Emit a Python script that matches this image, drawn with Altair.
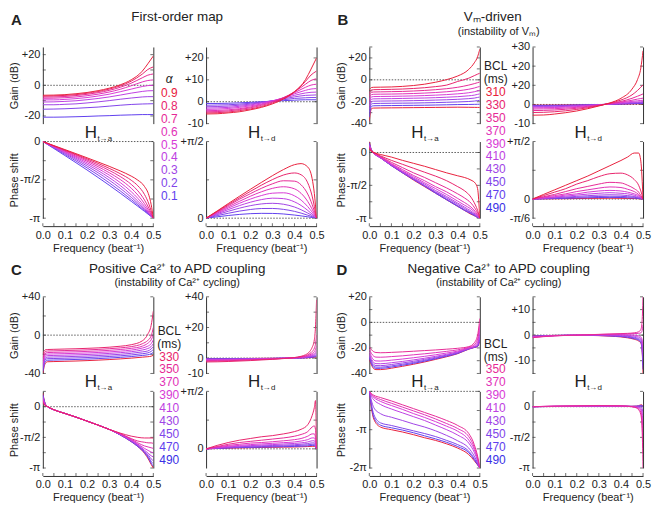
import altair as alt
import pandas as pd

FONT = "Liberation Sans"
W = 111
H = 77
COL_GAP = 53
ROW_GAP = 18
SPACER_H = 43
LEG_STEP = 13.0

# ---------------- series labels and colours ----------------
ALPHA = ["0.9", "0.8", "0.7", "0.6", "0.5", "0.4", "0.3", "0.2", "0.1"]
ALPHA_COLORS = ["#E8203C", "#E8246C", "#E62A96", "#E232B8", "#D83AD6",
                "#BE40E2", "#A044E6", "#8044EA", "#6040EE"]
BCL_B = ["310", "330", "350", "370", "390", "410", "430", "450", "470", "490"]
BCL_COLORS_B = ["#E8203C", "#E8246C", "#E62A96", "#E232B8", "#D83AD6",
                "#BE40E2", "#A044E6", "#8044EA", "#6040EE", "#3A30E6"]
BCL_C = ["330", "350", "370", "390", "410", "430", "450", "470", "490"]
BCL_COLORS_C = BCL_COLORS_B[1:]
BCL_D = ["350", "370", "390", "410", "430", "450", "470", "490"]
BCL_COLORS_D = BCL_COLORS_B[2:]

X_TICKS = [0.0, 0.05, 0.1, 0.15, 0.2, 0.25, 0.3, 0.35, 0.4, 0.45, 0.5]

# ---------------- A: first-order map ----------------
F_AG = [0, 0.05, 0.1, 0.15, 0.2, 0.25, 0.3, 0.35, 0.4, 0.45, 0.475, 0.5]
A_GAIN_TA = [
    [-6.5, -6.4, -6.1, -5.5, -4.7, -3.5, -1.9, 0.3, 3.6, 9.2, 14.0, 19.1],
    [-7.1, -6.9, -6.6, -6.1, -5.2, -4.1, -2.5, -0.4, 2.7, 7.3, 10.3, 12.0],
    [-7.7, -7.6, -7.3, -6.7, -5.9, -4.8, -3.3, -1.3, 1.4, 4.9, 6.6, 7.4],
    [-8.5, -8.4, -8.1, -7.6, -6.8, -5.8, -4.4, -2.6, -0.3, 2.2, 3.1, 3.5],
    [-9.5, -9.5, -9.2, -8.7, -8.0, -7.0, -5.8, -4.2, -2.5, -0.8, -0.2, 0.0],
    [-10.9, -10.8, -10.5, -10.1, -9.4, -8.6, -7.6, -6.4, -5.1, -4.0, -3.6, -3.5],
    [-12.7, -12.7, -12.4, -12.1, -11.5, -10.8, -10.0, -9.1, -8.3, -7.6, -7.4, -7.4],
    [-15.6, -15.5, -15.3, -15.0, -14.6, -14.2, -13.6, -13.0, -12.5, -12.2, -12.1, -12.0],
    [-20.8, -20.8, -20.7, -20.5, -20.3, -20.0, -19.8, -19.5, -19.3, -19.1, -19.1, -19.1],
]
A_GAIN_TD = [
    [-5.6, -5.5, -5.1, -4.6, -3.7, -2.6, -1.0, 1.2, 4.5, 10.1, 14.9, 20.0],
    [-5.1, -5.0, -4.7, -4.1, -3.3, -2.2, -0.6, 1.6, 4.6, 9.3, 12.2, 14.0],
    [-4.6, -4.5, -4.2, -3.6, -2.8, -1.7, -0.2, 1.8, 4.5, 8.0, 9.7, 10.5],
    [-4.1, -4.0, -3.7, -3.2, -2.4, -1.3, 0.1, 1.8, 4.1, 6.6, 7.6, 8.0],
    [-3.5, -3.4, -3.1, -2.6, -1.9, -1.0, 0.3, 1.8, 3.6, 5.2, 5.8, 6.0],
    [-2.9, -2.8, -2.6, -2.1, -1.5, -0.6, 0.4, 1.6, 2.9, 4.0, 4.3, 4.4],
    [-2.3, -2.2, -2.0, -1.6, -1.1, -0.4, 0.4, 1.3, 2.2, 2.9, 3.0, 3.1],
    [-1.6, -1.5, -1.4, -1.1, -0.7, -0.2, 0.4, 0.9, 1.5, 1.8, 1.9, 1.9],
    [-0.8, -0.8, -0.7, -0.5, -0.3, 0.0, 0.2, 0.5, 0.7, 0.9, 0.9, 0.9],
]
F_AP = [0, 0.05, 0.1, 0.15, 0.2, 0.25, 0.3, 0.35, 0.4, 0.43, 0.46, 0.48, 0.49, 0.5]
# phase values in units of pi
A_PHASE_TA = [
    [0, -0.053, -0.105, -0.158, -0.212, -0.267, -0.323, -0.383, -0.451, -0.504, -0.586, -0.702, -0.819, -1],
    [0, -0.056, -0.112, -0.168, -0.226, -0.285, -0.349, -0.419, -0.505, -0.577, -0.690, -0.816, -0.903, -1],
    [0, -0.059, -0.118, -0.177, -0.241, -0.306, -0.376, -0.456, -0.559, -0.643, -0.763, -0.871, -0.934, -1],
    [0, -0.063, -0.126, -0.191, -0.257, -0.328, -0.406, -0.495, -0.609, -0.698, -0.811, -0.902, -0.950, -1],
    [0, -0.067, -0.135, -0.204, -0.276, -0.353, -0.437, -0.535, -0.654, -0.742, -0.845, -0.921, -0.960, -1],
    [0, -0.072, -0.144, -0.219, -0.296, -0.379, -0.470, -0.573, -0.694, -0.777, -0.869, -0.934, -0.967, -1],
    [0, -0.077, -0.155, -0.235, -0.319, -0.407, -0.503, -0.609, -0.727, -0.805, -0.887, -0.943, -0.972, -1],
    [0, -0.084, -0.168, -0.254, -0.344, -0.437, -0.537, -0.643, -0.756, -0.827, -0.901, -0.950, -0.975, -1],
    [0, -0.091, -0.183, -0.276, -0.371, -0.469, -0.569, -0.673, -0.780, -0.845, -0.911, -0.956, -0.978, -1],
]
A_PHASE_TD = [
    [0, 0.047, 0.095, 0.142, 0.188, 0.233, 0.277, 0.317, 0.349, 0.356, 0.334, 0.258, 0.161, 0],
    [0, 0.0445, 0.0885, 0.132, 0.1745, 0.215, 0.2515, 0.2815, 0.295, 0.283, 0.2305, 0.144, 0.0775, 0],
    [0, 0.041, 0.082, 0.123, 0.1595, 0.1945, 0.224, 0.244, 0.2415, 0.2175, 0.1575, 0.089, 0.046, 0],
    [0, 0.0375, 0.074, 0.1095, 0.143, 0.172, 0.1945, 0.205, 0.1915, 0.162, 0.109, 0.0585, 0.030, 0],
    [0, 0.033, 0.0655, 0.0965, 0.1245, 0.1475, 0.163, 0.1655, 0.146, 0.118, 0.0755, 0.0395, 0.020, 0],
    [0, 0.0285, 0.056, 0.0815, 0.104, 0.121, 0.1305, 0.1275, 0.1065, 0.083, 0.051, 0.0265, 0.0135, 0],
    [0, 0.023, 0.045, 0.065, 0.0815, 0.093, 0.097, 0.091, 0.073, 0.055, 0.0335, 0.017, 0.0085, 0],
    [0, 0.0165, 0.032, 0.046, 0.0565, 0.063, 0.0635, 0.0575, 0.0445, 0.033, 0.0195, 0.010, 0.005, 0],
    [0, 0.009, 0.0175, 0.0245, 0.0295, 0.0315, 0.031, 0.0275, 0.0205, 0.015, 0.009, 0.0045, 0.002, 0],
]

# ---------------- B: Vm-driven ----------------
F_BGA = [0, 0.004, 0.01, 0.02, 0.05, 0.1, 0.15, 0.2, 0.25, 0.3, 0.35, 0.4, 0.45, 0.475, 0.49, 0.5]
B_GAIN_TA = [
    [-9, -8, -7, -6.8, -6.7, -6.5, -6.0, -5.2, -4.0, -2.2, 0.2, 3.5, 9.5, 15.5, 21, 28],
    [-12, -10.5, -9.3, -9.0, -8.9, -8.7, -8.4, -7.9, -7.2, -6.2, -4.8, -1.5, 1.5, 3.8, 5.2, 6.0],
    [-15, -12.5, -11.4, -11.1, -11.0, -10.8, -10.6, -10.2, -9.7, -9.0, -8.1, -6.8, -4.8, -3.5, -2.6, -2.0],
    [-18, -15, -13.5, -13.2, -13.1, -13.0, -12.8, -12.5, -12.1, -11.6, -10.9, -10.0, -8.6, -7.5, -6.6, -6.0],
    [-21, -17.5, -15.6, -15.3, -15.2, -15.1, -14.9, -14.7, -14.4, -14.0, -13.5, -12.8, -11.8, -10.9, -10.1, -9.5],
    [-24, -20, -17.8, -17.4, -17.3, -17.2, -17.0, -16.8, -16.6, -16.3, -15.9, -15.4, -14.6, -14.0, -13.3, -12.8],
    [-27, -22.5, -19.9, -19.5, -19.4, -19.3, -19.2, -19.0, -18.8, -18.5, -18.2, -17.8, -17.2, -16.7, -16.1, -15.7],
    [-30, -25, -22, -21.6, -21.5, -21.4, -21.3, -21.2, -21.0, -20.8, -20.5, -20.2, -19.8, -19.4, -19.0, -18.7],
    [-34, -28, -24.2, -23.7, -23.6, -23.5, -23.4, -23.3, -23.2, -23.0, -22.8, -22.6, -22.5, -22.4, -22.35, -22.3],
    [-38, -31, -26.3, -25.8, -25.7, -25.6, -25.5, -25.4, -25.3, -25.2, -25.1, -25.0, -25.1, -25.15, -25.2, -25.2],
]
F_BGD = [0, 0.05, 0.1, 0.15, 0.2, 0.25, 0.3, 0.35, 0.4, 0.45, 0.475, 0.49, 0.5]
B_GAIN_TD = [
    [-5.6, -5.5, -5.0, -4.3, -3.4, -2.2, -0.8, 0.8, 3.2, 8.0, 13.0, 19.0, 28.0],
    [-4.2, -4.1, -3.8, -3.3, -2.6, -1.7, -0.6, 0.7, 2.3, 5.0, 7.3, 9.0, 10.3],
    [-3.2, -3.1, -2.9, -2.5, -2.0, -1.3, -0.5, 0.5, 1.6, 3.2, 4.3, 5.0, 5.5],
    [-2.4, -2.3, -2.2, -1.9, -1.5, -1.0, -0.4, 0.4, 1.2, 2.2, 2.8, 3.1, 3.3],
    [-1.8, -1.7, -1.6, -1.4, -1.1, -0.7, -0.3, 0.3, 0.9, 1.6, 1.9, 2.1, 2.2],
    [-1.3, -1.3, -1.2, -1.0, -0.8, -0.5, -0.2, 0.2, 0.6, 1.1, 1.3, 1.4, 1.5],
    [-1.0, -1.0, -0.9, -0.8, -0.6, -0.4, -0.1, 0.2, 0.5, 0.8, 1.0, 1.05, 1.1],
    [-0.7, -0.7, -0.6, -0.55, -0.4, -0.3, -0.1, 0.1, 0.35, 0.55, 0.7, 0.75, 0.8],
    [-0.5, -0.5, -0.45, -0.4, -0.3, -0.2, -0.05, 0.1, 0.25, 0.4, 0.5, 0.52, 0.55],
    [-0.35, -0.35, -0.3, -0.25, -0.2, -0.15, -0.05, 0.05, 0.15, 0.28, 0.33, 0.36, 0.38],
]
F_BPA = [0, 0.005, 0.01, 0.02, 0.05, 0.1, 0.15, 0.2, 0.25, 0.3, 0.35, 0.4, 0.43, 0.46, 0.48, 0.49, 0.5]
B_PHASE_TA = [
    [0.05, 0.03, 0.02, 0.0, -0.03, -0.07, -0.12, -0.165, -0.21, -0.26, -0.31, -0.355, -0.38, -0.42, -0.47, -0.55, -1],
    [0.07, 0.04, 0.02, 0.0, -0.05, -0.12, -0.18, -0.24, -0.30, -0.36, -0.43, -0.52, -0.58, -0.68, -0.80, -0.88, -1],
    [0.08, 0.05, 0.02, 0.0, -0.06, -0.15, -0.23, -0.31, -0.38, -0.46, -0.54, -0.63, -0.69, -0.77, -0.86, -0.92, -1],
    [0.09, 0.05, 0.02, -0.01, -0.07, -0.17, -0.26, -0.35, -0.43, -0.52, -0.60, -0.70, -0.76, -0.83, -0.90, -0.95, -1],
    [0.10, 0.06, 0.03, -0.01, -0.07, -0.18, -0.28, -0.37, -0.46, -0.55, -0.64, -0.74, -0.80, -0.86, -0.92, -0.96, -1],
    [0.11, 0.06, 0.03, -0.01, -0.08, -0.19, -0.29, -0.39, -0.48, -0.58, -0.67, -0.77, -0.83, -0.89, -0.94, -0.97, -1],
    [0.12, 0.07, 0.03, -0.01, -0.08, -0.19, -0.30, -0.40, -0.50, -0.60, -0.69, -0.79, -0.85, -0.91, -0.95, -0.98, -1],
    [0.13, 0.07, 0.03, -0.01, -0.08, -0.20, -0.30, -0.41, -0.51, -0.61, -0.71, -0.81, -0.87, -0.92, -0.96, -0.98, -1],
    [0.15, 0.08, 0.04, -0.01, -0.08, -0.20, -0.31, -0.41, -0.51, -0.62, -0.72, -0.82, -0.88, -0.93, -0.97, -0.99, -1],
    [0.17, 0.09, 0.04, -0.01, -0.08, -0.20, -0.31, -0.42, -0.52, -0.62, -0.72, -0.82, -0.88, -0.94, -0.97, -0.99, -1],
]
F_BPD = [0, 0.05, 0.1, 0.15, 0.2, 0.25, 0.3, 0.35, 0.4, 0.43, 0.46, 0.48, 0.49, 0.5]
B_PHASE_TD = [
    [0, 0.04, 0.08, 0.12, 0.16, 0.20, 0.245, 0.29, 0.335, 0.365, 0.40, 0.40, 0.33, 0],
    [0, 0.03, 0.06, 0.09, 0.13, 0.16, 0.195, 0.22, 0.225, 0.21, 0.17, 0.12, 0.07, 0],
    [0, 0.02, 0.04, 0.065, 0.09, 0.11, 0.13, 0.145, 0.14, 0.12, 0.09, 0.06, 0.03, 0],
    [0, 0.015, 0.03, 0.045, 0.065, 0.08, 0.095, 0.105, 0.10, 0.085, 0.065, 0.04, 0.02, 0],
    [0, 0.01, 0.02, 0.035, 0.045, 0.06, 0.07, 0.075, 0.07, 0.06, 0.045, 0.03, 0.015, 0],
    [0, 0.008, 0.016, 0.025, 0.034, 0.043, 0.05, 0.055, 0.05, 0.045, 0.033, 0.02, 0.01, 0],
    [0, 0.005, 0.011, 0.017, 0.023, 0.029, 0.034, 0.037, 0.035, 0.03, 0.022, 0.014, 0.007, 0],
    [0, 0.004, 0.007, 0.011, 0.015, 0.019, 0.022, 0.024, 0.023, 0.02, 0.015, 0.009, 0.005, 0],
    [0, 0.002, 0.004, 0.006, 0.009, 0.011, 0.013, 0.014, 0.013, 0.011, 0.008, 0.005, 0.003, 0],
    [0, 0.001, 0.002, 0.003, 0.004, 0.005, 0.006, 0.007, 0.006, 0.005, 0.004, 0.003, 0.001, 0],
]

# ---------------- C: positive Ca to APD coupling ----------------
F_CGA = [0, 0.005, 0.01, 0.02, 0.05, 0.1, 0.15, 0.2, 0.25, 0.3, 0.35, 0.4, 0.45, 0.475, 0.49, 0.5]
C_GAIN_TA = [
    [-20, -17, -15.5, -15, -14.8, -14.5, -14.2, -13.8, -13.3, -12.6, -11.6, -10, -6, 1, 10, 25],
    [-24, -20, -17.5, -16.6, -16.4, -16.1, -15.8, -15.4, -14.9, -14.2, -13.3, -12, -9, -5.5, -1, 8],
    [-27, -22, -19.5, -18.2, -18, -17.7, -17.4, -17, -16.5, -15.9, -15, -13.8, -11.5, -8.5, -5, 0],
    [-30, -24, -21, -19.8, -19.6, -19.3, -19, -18.6, -18.1, -17.5, -16.7, -15.6, -13.5, -11.5, -9, -5],
    [-32, -26, -23, -21.4, -21.2, -20.9, -20.6, -20.2, -19.7, -19.1, -18.3, -17.3, -15.5, -14, -12, -9],
    [-34, -28, -24.5, -23, -22.8, -22.5, -22.2, -21.8, -21.3, -20.7, -20, -19, -17.5, -16.5, -14.5, -12],
    [-36, -30, -26, -24.6, -24.4, -24.1, -23.8, -23.4, -22.9, -22.3, -21.6, -20.7, -19.4, -18.5, -17, -15],
    [-38, -32, -28, -26.2, -26, -25.7, -25.4, -25, -24.5, -23.9, -23.2, -22.4, -21.2, -20.5, -19.5, -18],
    [-40, -34, -30, -27.8, -27.6, -27.3, -27, -26.6, -26.1, -25.5, -24.8, -24, -23, -22.5, -22, -21],
]
F_CGD = [0, 0.05, 0.1, 0.2, 0.3, 0.35, 0.4, 0.43, 0.45, 0.47, 0.48, 0.49, 0.495, 0.5]
C_GAIN_TD = [
    [-2.5, -2.4, -2.2, -1.6, -0.8, -0.3, 0.4, 1.2, 2.2, 4.5, 7, 12, 20, 38],
    [-2, -1.9, -1.7, -1.2, -0.6, -0.2, 0.3, 0.9, 1.6, 3, 4.3, 6.5, 9, 15],
    [-1.6, -1.5, -1.4, -1, -0.5, -0.2, 0.2, 0.7, 1.2, 2.2, 3, 4.3, 5.5, 8],
    [-1.3, -1.2, -1.1, -0.8, -0.4, -0.1, 0.2, 0.5, 0.9, 1.6, 2.2, 3, 3.8, 5],
    [-1.0, -0.95, -0.85, -0.6, -0.3, -0.1, 0.15, 0.4, 0.65, 1.2, 1.6, 2.2, 2.7, 3.5],
    [-0.8, -0.75, -0.7, -0.5, -0.25, -0.1, 0.1, 0.3, 0.5, 0.9, 1.2, 1.6, 2.0, 2.5],
    [-0.6, -0.55, -0.5, -0.35, -0.2, -0.05, 0.1, 0.2, 0.35, 0.65, 0.85, 1.1, 1.4, 1.8],
    [-0.45, -0.4, -0.38, -0.28, -0.15, -0.05, 0.05, 0.15, 0.25, 0.45, 0.6, 0.8, 1.0, 1.3],
    [-0.3, -0.3, -0.28, -0.2, -0.1, -0.03, 0.04, 0.1, 0.18, 0.3, 0.4, 0.55, 0.7, 0.9],
]
F_CPA = [0, 0.005, 0.01, 0.02, 0.05, 0.1, 0.15, 0.2, 0.25, 0.3, 0.35, 0.4, 0.43, 0.46, 0.48, 0.49, 0.5]
C_PHASE_TA = [
    [0.06, 0.035, 0.02, 0.005, -0.05, -0.11, -0.17, -0.235, -0.30, -0.37, -0.43, -0.48, -0.50, -0.51, -0.51, -0.51, -0.51],
    [0.08, 0.05, 0.025, 0.005, -0.05, -0.11, -0.17, -0.235, -0.30, -0.37, -0.44, -0.52, -0.56, -0.58, -0.59, -0.59, -0.60],
    [0.10, 0.06, 0.03, 0.005, -0.05, -0.11, -0.17, -0.235, -0.30, -0.37, -0.44, -0.53, -0.59, -0.64, -0.66, -0.67, -0.68],
    [0.12, 0.07, 0.035, 0.005, -0.05, -0.11, -0.17, -0.235, -0.30, -0.37, -0.45, -0.54, -0.61, -0.68, -0.72, -0.74, -0.75],
    [0.14, 0.085, 0.04, 0.005, -0.05, -0.11, -0.17, -0.235, -0.30, -0.37, -0.45, -0.55, -0.62, -0.71, -0.77, -0.80, -0.82],
    [0.16, 0.10, 0.045, 0.005, -0.05, -0.11, -0.17, -0.235, -0.30, -0.37, -0.45, -0.56, -0.63, -0.73, -0.80, -0.85, -0.88],
    [0.18, 0.11, 0.05, 0.005, -0.05, -0.11, -0.17, -0.235, -0.30, -0.37, -0.46, -0.56, -0.64, -0.74, -0.83, -0.89, -0.93],
    [0.20, 0.12, 0.055, 0.005, -0.05, -0.11, -0.17, -0.235, -0.30, -0.37, -0.46, -0.57, -0.65, -0.75, -0.85, -0.92, -0.97],
    [0.22, 0.13, 0.06, 0.005, -0.05, -0.11, -0.17, -0.235, -0.30, -0.37, -0.46, -0.57, -0.65, -0.76, -0.87, -0.94, -1.0],
]
F_CPD = [0, 0.05, 0.1, 0.15, 0.2, 0.25, 0.3, 0.35, 0.4, 0.43, 0.46, 0.48, 0.49, 0.495, 0.5]
C_PHASE_TD = [
    [0, 0.03, 0.055, 0.075, 0.09, 0.105, 0.115, 0.13, 0.15, 0.17, 0.21, 0.29, 0.36, 0.42, 0],
    [0, 0.02, 0.04, 0.055, 0.065, 0.075, 0.085, 0.095, 0.11, 0.125, 0.15, 0.19, 0.2, 0.17, 0],
    [0, 0.015, 0.03, 0.04, 0.05, 0.055, 0.062, 0.07, 0.08, 0.09, 0.11, 0.13, 0.13, 0.1, 0],
    [0, 0.012, 0.022, 0.03, 0.037, 0.043, 0.048, 0.054, 0.06, 0.068, 0.08, 0.095, 0.095, 0.07, 0],
    [0, 0.009, 0.017, 0.023, 0.028, 0.033, 0.037, 0.042, 0.047, 0.052, 0.06, 0.07, 0.07, 0.05, 0],
    [0, 0.007, 0.013, 0.018, 0.022, 0.026, 0.029, 0.032, 0.036, 0.04, 0.046, 0.052, 0.052, 0.037, 0],
    [0, 0.005, 0.01, 0.014, 0.017, 0.02, 0.022, 0.025, 0.028, 0.031, 0.035, 0.04, 0.04, 0.028, 0],
    [0, 0.004, 0.008, 0.011, 0.013, 0.015, 0.017, 0.019, 0.021, 0.023, 0.026, 0.03, 0.03, 0.02, 0],
    [0, 0.003, 0.006, 0.008, 0.01, 0.012, 0.013, 0.015, 0.016, 0.018, 0.02, 0.022, 0.022, 0.015, 0],
]

# ---------------- D: negative Ca to APD coupling ----------------
F_DGA = [0, 0.01, 0.02, 0.03, 0.05, 0.1, 0.15, 0.2, 0.25, 0.3, 0.35, 0.4, 0.45, 0.475, 0.49, 0.5]
D_GAIN_TA = [
    [-19, -21.5, -23, -23.6, -23.8, -23.5, -23.1, -22.6, -22.1, -21.6, -21, -20.3, -19, -16, -10, 3],
    [-21, -24.5, -26.5, -27.2, -27.3, -26.8, -26.2, -25.4, -24.6, -23.7, -22.7, -21.5, -19.5, -17.5, -13, -1],
    [-23, -27, -29.5, -30.2, -30.3, -29.6, -28.7, -27.7, -26.6, -25.4, -24, -22.5, -20, -18.5, -15.5, -4],
    [-25, -29, -31.5, -32.3, -32.4, -31.6, -30.6, -29.4, -28.1, -26.6, -25, -23.1, -20.3, -19, -17, -7],
    [-26, -30.5, -33, -33.8, -33.9, -33, -31.8, -30.5, -29, -27.4, -25.6, -23.6, -20.5, -19.3, -18, -10],
    [-27, -31.5, -34.3, -35, -35.1, -34.1, -32.8, -31.4, -29.8, -28, -26.1, -24, -20.7, -19.5, -18.5, -12],
    [-28, -32.5, -35.3, -36, -36, -35, -33.6, -32.1, -30.4, -28.5, -26.5, -24.3, -20.8, -19.6, -18.8, -13.5],
    [-29, -33.5, -36.3, -37, -37, -35.9, -34.4, -32.8, -31, -29, -26.9, -24.5, -21, -19.7, -19, -15],
]
F_DGD = [0, 0.05, 0.1, 0.2, 0.3, 0.35, 0.4, 0.43, 0.46, 0.48, 0.49, 0.495, 0.5]
D_GAIN_TD = [
    [-1.0, -0.6, -0.3, 0, 0.3, 0.45, 0.6, 0.7, 0.9, 1.3, 2.2, 4.5, 15],
    [-0.9, -0.5, -0.25, 0, 0.25, 0.35, 0.45, 0.5, 0.6, 0.7, 0.9, 1.5, 4],
    [-0.8, -0.45, -0.2, 0, 0.15, 0.2, 0.2, 0.15, 0, -0.3, -0.7, -1.5, -4],
    [-0.7, -0.4, -0.2, 0, 0.05, 0.05, 0, -0.15, -0.4, -0.8, -1.3, -2.5, -7],
    [-0.6, -0.35, -0.15, 0, 0, -0.1, -0.25, -0.45, -0.8, -1.3, -1.9, -3.5, -10],
    [-0.5, -0.3, -0.15, -0.05, -0.1, -0.2, -0.4, -0.65, -1.1, -1.7, -2.4, -4.2, -12],
    [-0.4, -0.25, -0.1, -0.05, -0.15, -0.3, -0.55, -0.85, -1.4, -2.0, -2.8, -4.8, -13.5],
    [-0.3, -0.2, -0.1, -0.05, -0.2, -0.4, -0.7, -1.05, -1.6, -2.3, -3.1, -5.3, -15],
]
F_DPA = [0, 0.01, 0.02, 0.05, 0.1, 0.15, 0.2, 0.25, 0.3, 0.35, 0.4, 0.45, 0.475, 0.49, 0.5]
D_PHASE_TA = [
    [0, -0.06, -0.1, -0.16, -0.25, -0.35, -0.45, -0.55, -0.65, -0.76, -0.89, -1.10, -1.39, -1.69, -2],
    [0, -0.08, -0.13, -0.21, -0.31, -0.41, -0.51, -0.61, -0.72, -0.84, -0.97, -1.18, -1.46, -1.73, -2],
    [0, -0.1, -0.16, -0.26, -0.37, -0.47, -0.58, -0.68, -0.79, -0.91, -1.04, -1.27, -1.52, -1.77, -2],
    [0, -0.14, -0.22, -0.34, -0.46, -0.56, -0.66, -0.76, -0.88, -1.0, -1.14, -1.35, -1.59, -1.81, -2],
    [0, -0.25, -0.42, -0.58, -0.675, -0.76, -0.85, -0.93, -1.03, -1.15, -1.29, -1.48, -1.69, -1.86, -2],
    [0, -0.35, -0.6, -0.82, -0.89, -0.96, -1.03, -1.10, -1.18, -1.28, -1.39, -1.56, -1.75, -1.89, -2],
    [0, -0.4, -0.67, -0.88, -0.95, -1.01, -1.08, -1.16, -1.24, -1.33, -1.44, -1.60, -1.78, -1.91, -2],
    [0, -0.45, -0.72, -0.93, -1.0, -1.06, -1.13, -1.21, -1.28, -1.37, -1.48, -1.65, -1.81, -1.92, -2],
]
F_DPD = [0, 0.05, 0.1, 0.2, 0.3, 0.4, 0.45, 0.47, 0.48, 0.49, 0.495, 0.5]
D_PHASE_TD = [
    [0, 0.005, 0.01, 0.015, 0.02, 0.015, 0.0, -0.02, -0.05, -0.13, -0.3, -1.0],
    [0, 0.005, 0.008, 0.012, 0.015, 0.012, 0.0, -0.015, -0.035, -0.09, -0.22, -0.7],
    [0, 0.004, 0.007, 0.01, 0.012, 0.01, 0.002, -0.008, -0.02, -0.05, -0.13, -0.45],
    [0, 0.003, 0.006, 0.008, 0.01, 0.008, 0.003, -0.003, -0.01, -0.025, -0.07, -0.25],
    [0, 0.003, 0.005, 0.007, 0.008, 0.007, 0.004, 0.002, 0.0, -0.005, -0.02, -0.1],
    [0, 0.002, 0.004, 0.006, 0.007, 0.006, 0.005, 0.006, 0.008, 0.012, 0.01, 0.0],
    [0, 0.002, 0.004, 0.005, 0.006, 0.006, 0.006, 0.008, 0.012, 0.02, 0.02, 0.0],
    [0, 0.002, 0.003, 0.004, 0.005, 0.005, 0.007, 0.01, 0.016, 0.03, 0.03, 0.0],
]

# ---------------- helpers ----------------
ONE = pd.DataFrame({"k": [0]})
ZERO = pd.DataFrame({"z": [0.0]})
XTICK_DF = pd.DataFrame({"t": X_TICKS})
XLAB = "round(datum.value * 20) % 2 == 0 ? format(datum.value, '.1f') : ''"
X_OFFSET = 8
AX_COLOR = "#333333"


def series_df(freqs, curves, labels):
    rows = []
    for lab, vals in reversed(list(zip(labels, curves))):
        assert len(vals) == len(freqs), (lab, len(vals), len(freqs))
        for f, v in zip(freqs, vals):
            rows.append({"f": f, "v": v, "s": lab})
    return pd.DataFrame(rows)


def lexpr(pairs):
    e = "''"
    for v, lab in reversed(pairs):
        e = f"abs(datum.value - ({float(v)!r})) < 0.000001 ? '{lab}' : ({e})"
    return e


def text(s, x, y, size=11.0, color="#222222", weight="normal", align="center", style="normal"):
    return alt.Chart(ONE).mark_text(
        text=s, font=FONT, fontSize=size, color=color, fontWeight=weight,
        align=align, baseline="middle", fontStyle=style,
    ).encode(x=alt.value(x), y=alt.value(y))


def hlabel(sub):
    return [text("H", W / 2 - 1, H + 9, size=17, align="right"),
            text(sub, W / 2 - 0.5, H + 15, size=8, align="left")]


def legend(headers, labels, colors, y0):
    out = []
    for s, y, style in headers:
        out.append(text(s, W + 16, y, size=12, style=style))
    for i, (lab, col) in enumerate(zip(labels, colors)):
        out.append(text(lab, W + 16, y0 + i * LEG_STEP, size=12, color=col))
    return out


def x_axis():
    return alt.Axis(orient="bottom", values=X_TICKS, labelExpr=XLAB, offset=X_OFFSET,
                    title="Frequency (beat⁻¹)", ticks=False, labelPadding=3,
                    titlePadding=2, labelOverlap=False, labelFlush=False)


def plot(freqs, curves, labels, colors, ydom, yvals, ylabs, ytitle, phase, extra=()):
    df = series_df(freqs, curves, labels)
    ytick_df = pd.DataFrame({"t": yvals})
    xs = alt.Scale(domain=[0, 0.5], nice=False, zero=False)
    ys = alt.Scale(domain=ydom, nice=False, zero=False)
    lax = alt.Axis(orient="left", values=yvals, labelExpr=lexpr(ylabs), title=ytitle,
                   titleX=-28, titleY=H / 2, titleAlign="center", titleBaseline="middle",
                   ticks=False, labelPadding=3, labelOverlap=False, labelFlush=False)
    rax = alt.Axis(orient="right", values=yvals, labels=False, ticks=False, title="")
    zero = alt.Chart(ZERO).mark_rule(strokeDash=[1.5, 1.5], color=AX_COLOR, strokeWidth=0.8).encode(
        y=alt.Y("z:Q", scale=ys, axis=rax))
    # inward tick marks on both spines
    tl = alt.Chart(ytick_df).mark_tick(size=3, thickness=1, color=AX_COLOR).encode(
        y=alt.Y("t:Q", scale=ys, axis=None), x=alt.value(1.5))
    tr = alt.Chart(ytick_df).mark_tick(size=3, thickness=1, color=AX_COLOR).encode(
        y=alt.Y("t:Q", scale=ys, axis=None), x=alt.value(W - 1.5))
    layers = [zero, tl, tr]
    if phase:
        # upward tick marks on the offset frequency axis (same axis spec so they merge)
        layers.append(alt.Chart(XTICK_DF).mark_tick(size=3, thickness=1, color=AX_COLOR).encode(
            x=alt.X("t:Q", scale=xs, axis=x_axis()), y=alt.value(H + X_OFFSET - 1.5)))
        xax = x_axis()
    else:
        xax = None
    lines = alt.Chart(df).mark_line(strokeWidth=1, clip=True, interpolate="monotone").encode(
        x=alt.X("f:Q", scale=xs, axis=xax),
        y=alt.Y("v:Q", scale=ys, axis=lax),
        color=alt.Color("s:N", scale=alt.Scale(domain=labels, range=colors), legend=None),
    )
    layers.append(lines)
    return alt.layer(*layers, *extra).resolve_axis(y="independent").properties(width=W, height=H)


PI_TA = [(0, "0"), (-0.5, "-π/2"), (-1, "-π")]

# ---------------- panel A ----------------
a_extra = hlabel("t→a") + [
    text("A", -32, -27, size=15, weight="bold", align="left"),
    text("First-order map", 135, -30, size=13.5),
] + legend([("α", 32, "italic")], ALPHA, ALPHA_COLORS, 46)
A1 = plot(F_AG, A_GAIN_TA, ALPHA, ALPHA_COLORS, [-25, 25], [-20, -10, 0, 10, 20],
          [(20, "+20"), (0, "0"), (-20, "-20")], "Gain (dB)", False, a_extra)
A2 = plot(F_AG, A_GAIN_TD, ALPHA, ALPHA_COLORS, [-10, 25], [-10, 0, 10, 20],
          [(20, "+20"), (10, "+10"), (0, "0"), (-10, "-10")], "", False, hlabel("t→d"))
A3 = plot(F_AP, A_PHASE_TA, ALPHA, ALPHA_COLORS, [-1, 0], [-1, -0.75, -0.5, -0.25, 0],
          PI_TA, "Phase shift", True)
A4 = plot(F_AP, A_PHASE_TD, ALPHA, ALPHA_COLORS, [0, 0.5], [0, 0.25, 0.5],
          [(0.5, "+π/2"), (0, "0")], "", True)

# ---------------- panel B ----------------
b_extra = hlabel("t→a") + [
    text("B", -32, -27, size=15, weight="bold", align="left"),
    text("Vₘ-driven", 124, -30, size=13.5),
    text("(instability of Vₘ)", 130, -15, size=11),
] + legend([("BCL", 19, "normal"), ("(ms)", 32, "normal")], BCL_B, BCL_COLORS_B, 45)
B1 = plot(F_BGA, B_GAIN_TA, BCL_B, BCL_COLORS_B, [-40, 30], [-40, -30, -20, -10, 0, 10, 20, 30],
          [(20, "+20"), (0, "0"), (-20, "-20"), (-40, "-40")], "Gain (dB)", False, b_extra)
B2 = plot(F_BGD, B_GAIN_TD, BCL_B, BCL_COLORS_B, [-10, 30], [-10, 0, 10, 20, 30],
          [(30, "+30"), (20, "+20"), (10, "+20"), (0, "0"), (-10, "-10")], "", False, hlabel("t→d"))
B3 = plot(F_BPA, B_PHASE_TA, BCL_B, BCL_COLORS_B, [-1, 1 / 6], [-1, -0.75, -0.5, -0.25, 0],
          PI_TA, "Phase shift", True)
B4 = plot(F_BPD, B_PHASE_TD, BCL_B, BCL_COLORS_B, [-1 / 6, 0.5], [-1 / 6, 0, 0.25, 0.5],
          [(0.5, "+π/2"), (0, "0"), (-1 / 6, "-π/6")], "", True)

# ---------------- panel C ----------------
c_extra = hlabel("t→a") + [
    text("C", -32, -27, size=15, weight="bold", align="left"),
    text("Positive Ca²⁺ to APD coupling", 135, -28, size=13.5),
    text("(instability of Ca²⁺ cycling)", 135, -14, size=11),
] + legend([("BCL", 34, "normal"), ("(ms)", 47, "normal")], BCL_C, BCL_COLORS_C, 60)
C1 = plot(F_CGA, C_GAIN_TA, BCL_C, BCL_COLORS_C, [-40, 40], [-40, -20, 0, 20, 40],
          [(40, "+40"), (0, "0"), (-40, "-40")], "Gain (dB)", False, c_extra)
C2 = plot(F_CGD, C_GAIN_TD, BCL_C, BCL_COLORS_C, [-10, 40], [-10, 0, 10, 20, 30, 40],
          [(40, "+40"), (20, "+20"), (0, "0"), (-10, "-10")], "", False, hlabel("t→d"))
C3 = plot(F_CPA, C_PHASE_TA, BCL_C, BCL_COLORS_C, [-1, 0.25], [-1, -0.75, -0.5, -0.25, 0, 0.25],
          PI_TA, "Phase shift", True)
C4 = plot(F_CPD, C_PHASE_TD, BCL_C, BCL_COLORS_C, [-1 / 6, 0.5], [0, 0.25, 0.5],
          [(0.5, "+π/2"), (0, "0")], "", True)

# ---------------- panel D ----------------
d_extra = hlabel("t→a") + [
    text("D", -33, -27, size=15, weight="bold", align="left"),
    text("Negative Ca²⁺ to APD coupling", 130, -28, size=13.5),
    text("(instability of Ca²⁺ cycling)", 130, -14, size=11),
] + legend([("BCL", 47, "normal"), ("(ms)", 60, "normal")], BCL_D, BCL_COLORS_D, 73)
D1 = plot(F_DGA, D_GAIN_TA, BCL_D, BCL_COLORS_D, [-40, 20], [-40, -30, -20, -10, 0, 10, 20],
          [(20, "+20"), (0, "0"), (-20, "-20"), (-40, "-40")], "Gain (dB)", False, d_extra)
D2 = plot(F_DGD, D_GAIN_TD, BCL_D, BCL_COLORS_D, [-15, 15], [-15, -10, -5, 0, 5, 10, 15],
          [(10, "+10"), (0, "0"), (-10, "-10")], "", False, hlabel("t→d"))
D3 = plot(F_DPA, D_PHASE_TA, BCL_D, BCL_COLORS_D, [-2, 0], [-2, -1.5, -1, -0.5, 0],
          [(0, "0"), (-1, "-π"), (-2, "-2π")], "Phase shift", True)
D4 = plot(F_DPD, D_PHASE_TD, BCL_D, BCL_COLORS_D, [-1, 0.25], [-1, -0.75, -0.5, -0.25, 0, 0.25],
          PI_TA, "", True)


def spacer():
    return alt.Chart(ONE).mark_point(opacity=0).encode(
        x=alt.value(0), y=alt.value(0)).properties(width=W, height=SPACER_H)


cells = [A1, A2, B1, B2,
         A3, A4, B3, B4,
         spacer(), spacer(), spacer(), spacer(),
         C1, C2, D1, D2,
         C3, C4, D3, D4]

chart = alt.concat(
    *cells, columns=4, spacing={"row": ROW_GAP, "column": COL_GAP}, bounds="flush"
).configure_view(
    stroke="transparent"
).configure_axis(
    labelFont=FONT, titleFont=FONT, labelFontSize=11, titleFontSize=11,
    labelColor="#222222", titleColor="#222222", domainColor=AX_COLOR, tickColor=AX_COLOR,
    titleFontWeight="normal", grid=False,
).properties(padding=0, background="white")

chart.save("out.html", embed_options={"renderer": "svg", "actions": False})
